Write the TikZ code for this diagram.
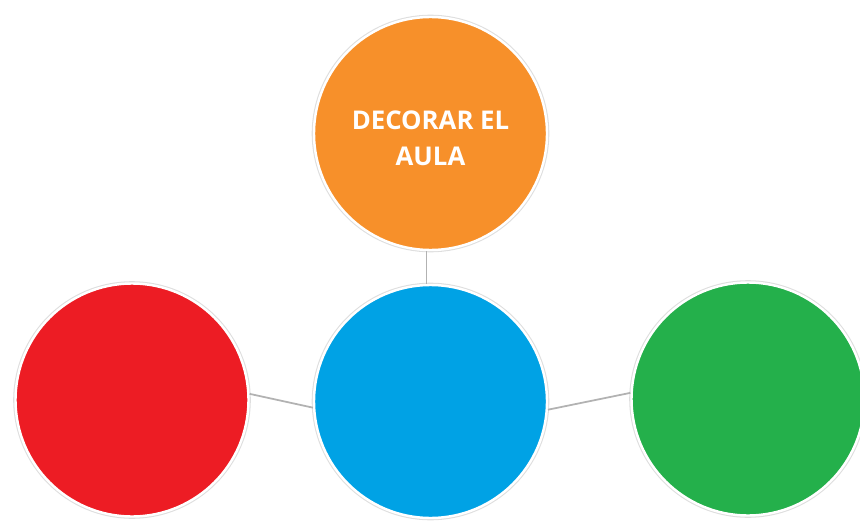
\documentclass[tikz,border=0pt]{standalone}
\usepackage{fontspec}
\setmainfont{Open Sans}
\usetikzlibrary{positioning}

\definecolor{bolaorange}{RGB}{247,144,42}
\definecolor{bolared}{RGB}{237,28,36}
\definecolor{bolablue}{RGB}{0,162,229}
\definecolor{bolagreen}{RGB}{36,176,75}

\tikzset{
    bola/.style={circle, minimum size=6.99cm, draw=white, line width=2.1pt,
        preaction={draw=black!13, line width=3.9pt}},
    bolatext/.style={text=white, font=\fontsize{22}{30.6}\selectfont\bfseries, align=center},
    conn/.style={draw=black!30, line width=1.5pt}
}

\begin{document}
\begin{tikzpicture}
    \useasboundingbox (0 , 0) rectangle (25.8 , 15.66);

    \node [bola, fill=bolaorange] (aula) at (12.915 , 11.655) {};
    \node [bola, fill=bolablue] (centro) at (12.915 , 3.615) {};
    \node [bola, fill=bolared] (izq) at (3.96 , 3.66) {};
    \node [bola, fill=bolagreen] (der) at (22.44 , 3.69) {};
    \node [bolatext, below=0.15cm of aula.center, anchor=center] (titulo) {DECORAR EL\\AULA};
 \path[conn]
      (aula.268) edge (centro.92)
      (izq.3) edge (centro.183)
      (centro.-4) edge (der.177);
\end{tikzpicture}
\end{document}
